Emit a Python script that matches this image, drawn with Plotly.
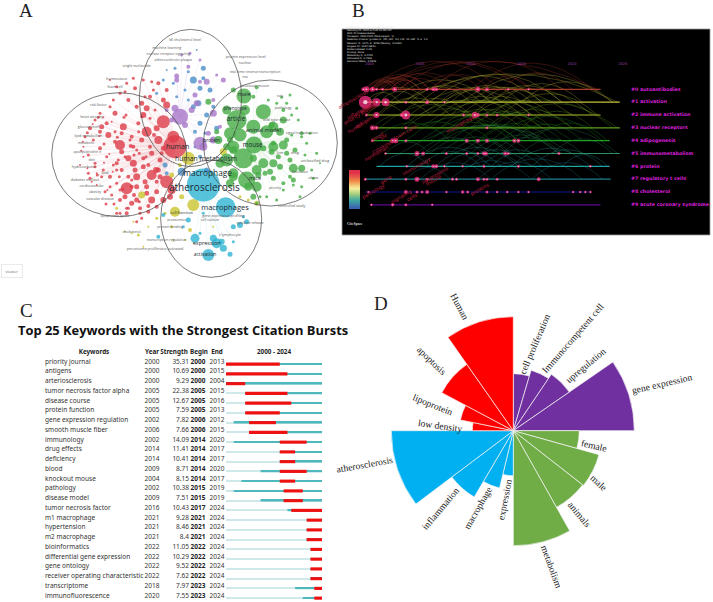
import plotly.graph_objects as go

W, H = 713, 602

# ---- panel A, keyword map (positions in map units)
red_x = [525, 440, 490, 380, 455, 360, 500, 455, 410, 370, 400, 520, 475, 430, 345, 330, 300, 285, 270, 255, 250, 265, 285, 310, 330, 350, 375, 395, 420, 440, 470, 490, 305, 325, 345, 365, 385, 410, 430, 455, 480, 280, 300, 320, 340, 365, 385, 405, 430, 250, 270, 290, 315, 335, 360, 385, 410, 435, 265, 285, 305, 330, 350, 375, 400, 425, 450, 475, 300, 320, 345, 365, 390, 415, 440, 465, 490, 340, 360, 385, 410, 435, 460, 380, 405, 430, 455, 330, 350, 375, 400, 425, 450, 475, 500, 420, 445, 470, 380, 410, 500, 470, 440, 410, 350, 480, 510, 395, 425, 350, 240, 248, 262, 278, 295, 312, 328, 352, 372, 392, 416, 438, 462, 485, 275, 292, 318, 342, 368, 395, 418, 445, 470, 310, 335, 355, 378, 402, 425, 450, 290, 312, 338, 358, 402, 322, 445, 380, 360, 298, 262, 244, 418, 468, 490, 515, 395, 360]
red_y = [440, 395, 365, 565, 525, 435, 545, 600, 530, 380, 490, 410, 420, 345, 340, 320, 340, 360, 385, 410, 440, 465, 490, 510, 530, 550, 590, 610, 625, 580, 575, 600, 380, 405, 425, 455, 475, 450, 475, 460, 480, 420, 445, 470, 495, 510, 530, 510, 500, 470, 535, 555, 575, 585, 600, 625, 560, 545, 520, 500, 530, 560, 490, 470, 440, 420, 440, 510, 395, 370, 395, 400, 420, 370, 325, 330, 300, 300, 280, 300, 320, 290, 270, 250, 265, 240, 245, 240, 260, 275, 235, 310, 290, 250, 270, 640, 635, 620, 640, 665, 315, 385, 560, 600, 510, 530, 590, 560, 655, 640, 495, 425, 398, 372, 352, 432, 462, 412, 352, 438, 395, 470, 405, 460, 545, 525, 612, 612, 568, 540, 605, 618, 545, 352, 365, 480, 345, 465, 350, 355, 520, 488, 515, 530, 585, 570, 495, 625, 640, 408, 505, 452, 460, 510, 445, 570, 410, 570]
red_s = [23, 10, 13, 12, 10, 10, 13, 7, 7, 7, 7, 12, 8, 6, 5, 3, 3, 3, 4, 3, 2, 3, 3, 3, 4, 3, 5, 5, 4, 5, 5, 6, 5, 6, 4, 5, 6, 3, 4, 5, 5, 3, 4, 3, 3, 4, 4, 5, 5, 2, 3, 2, 3, 3, 4, 3, 5, 5, 3, 3, 3, 3, 4, 3, 4, 5, 4, 5, 4, 4, 3, 4, 3, 4, 6, 3, 5, 3, 3, 4, 4, 3, 3, 3, 4, 3, 3, 2, 3, 3, 3, 5, 4, 4, 4, 3, 4, 4, 4, 3, 7, 6, 5, 5, 3, 5, 6, 4, 3, 3, 2, 2, 3, 2, 3, 3, 2, 3, 3, 4, 3, 3, 4, 4, 2, 3, 3, 3, 3, 3, 3, 4, 4, 2, 2, 3, 3, 3, 3, 3, 2, 2, 2, 3, 4, 2, 4, 3, 3, 2, 2, 2, 3, 6, 5, 8, 4, 3]

green_x = [732, 790, 710, 800, 720, 762, 730, 680, 790, 740, 850, 840, 880, 850, 770, 820, 655, 690, 625, 700, 770, 760, 845, 890, 905, 930, 875, 905, 860, 815, 790, 760, 835, 860, 885, 915, 870, 840, 810, 905, 850, 880, 780, 850, 830, 800, 770, 745, 650, 680, 700, 880, 900, 940, 700, 815, 795, 775, 870, 820, 760, 690, 680, 820, 700, 770, 700, 820, 735, 660, 690, 820, 760, 875, 830, 895, 920, 950, 960, 870, 805, 860, 905, 935, 850]
green_y = [288, 335, 360, 395, 405, 435, 475, 480, 490, 540, 435, 395, 505, 360, 560, 535, 420, 420, 305, 270, 262, 290, 292, 325, 400, 400, 405, 410, 420, 375, 445, 475, 470, 460, 450, 465, 480, 500, 515, 505, 550, 555, 590, 570, 600, 590, 610, 560, 395, 440, 530, 540, 590, 535, 450, 455, 520, 525, 530, 430, 380, 400, 330, 440, 440, 510, 520, 380, 330, 490, 550, 490, 590, 345, 310, 360, 430, 460, 490, 285, 300, 310, 560, 510, 330]
green_s = [15, 15, 20, 13, 13, 17, 20, 13, 10, 17, 9, 8, 9, 7, 10, 5, 8, 6, 6, 5, 4, 4, 3, 3, 4, 3, 3, 3, 5, 6, 6, 7, 5, 5, 5, 3, 5, 6, 6, 7, 4, 3, 3, 3, 3, 3, 3, 8, 5, 7, 9, 5, 3, 3, 8, 6, 5, 6, 4, 5, 14, 12, 9, 10, 12, 10, 10, 10, 10, 9, 8, 8, 6, 3, 3, 3, 3, 3, 2, 3, 3, 3, 3, 3, 4]

purple_x = [540, 600, 525, 640, 620, 530, 670, 575, 640, 565, 600, 515, 555, 610, 590, 660, 640, 500, 545, 585, 625, 600, 530, 570, 650]
purple_y = [350, 430, 325, 340, 245, 228, 240, 330, 420, 200, 180, 360, 375, 440, 310, 380, 300, 330, 165, 285, 400, 245, 240, 160, 225]
purple_s = [16, 13, 7, 7, 6, 5, 5, 6, 7, 4, 3, 5, 6, 8, 6, 4, 4, 4, 3, 5, 5, 4, 5, 3, 3]

steel_x = [580, 610, 600, 580, 630, 595, 650, 545, 500, 490, 525, 565, 620, 555, 530, 600, 585, 615, 640, 600, 620, 500, 470, 590, 565, 520, 610, 585, 610, 495]
steel_y = [240, 205, 265, 320, 270, 310, 385, 515, 520, 240, 205, 215, 345, 270, 290, 370, 395, 400, 320, 470, 510, 210, 280, 150, 300, 250, 235, 440, 420, 495]
steel_s = [7, 5, 5, 5, 5, 6, 5, 8, 4, 3, 3, 3, 5, 3, 3, 5, 4, 3, 4, 4, 5, 2, 3, 2, 3, 3, 4, 3, 3, 5]

teal_x = [610, 677, 650, 625, 585, 670, 690, 720, 740, 700, 565, 640, 665, 490, 475, 610, 700, 730, 600, 550]
teal_y = [555, 622, 730, 765, 715, 745, 763, 675, 665, 680, 660, 715, 725, 645, 710, 640, 725, 650, 700, 680]
teal_s = [33, 20, 10, 12, 9, 7, 5, 6, 5, 5, 5, 7, 6, 4, 4, 3, 3, 3, 3, 3]

yellow_x = [565, 525, 580, 670, 545, 570, 515, 470, 745, 350, 425, 415, 520, 540, 515, 495, 445, 400, 375, 770, 640, 720, 555, 430, 395]
yellow_y = [475, 635, 615, 455, 590, 690, 680, 655, 600, 625, 585, 705, 720, 495, 525, 640, 680, 665, 695, 610, 680, 590, 720, 740, 700]
yellow_s = [13, 10, 12, 7, 5, 4, 3, 3, 3, 3, 7, 3, 2, 4, 5, 3, 2, 2, 2, 5, 2, 3, 2, 2, 2]

big_labels = ["atherosclerosis", "macrophage", "macrophages", "human", "human metabolism", "mouse", "male", "article", "animal model", "mice", "protein", "expression", "activation", "cell function", "phenotype"]
big_x = [613, 623, 675, 533, 618, 758, 733, 708, 790, 765, 635, 620, 615, 545, 705]
big_y = [565, 522, 624, 443, 477, 437, 283, 358, 393, 537, 423, 732, 765, 640, 327]
big_sz = [10, 8.3, 7.5, 7, 6.8, 6.2, 5.5, 6.5, 5.5, 5.5, 5, 5.5, 5, 4, 4.6]

small_labels = ["ldl cholesterol level", "machine learning", "nuclear receptor signaling", "atherosclerotic plaque", "single nucleotide", "homeostasis", "foam cell", "risk factor", "heart atrophy", "glucose level", "lipid metabolism", "metabolic", "apolipoprotein e", "diet", "hydrocarbons", "lipid", "diabetes mellitus", "cardiovascular", "obesity", "vascular disease", "lipoprotein lipase", "cholesterol", "peroxisome proliferator-activated", "transcription regulation", "protein binding", "proteomics", "cell culture", "gene expression profiling", "cytokine release", "t lymphocyte", "protein expression level", "nuclear", "real time reverse transcription", "rna", "knockout mouse", "rats", "pathology", "signal transduction", "drug", "unclassified drug", "knockout", "obese", "controlled study", "priority", "liver", "wild type mouse"]
small_x = [555, 500, 505, 520, 410, 350, 345, 295, 275, 265, 265, 258, 262, 275, 250, 315, 255, 275, 285, 300, 345, 395, 465, 500, 510, 530, 630, 670, 750, 690, 737, 735, 765, 735, 765, 840, 850, 905, 885, 945, 900, 940, 875, 825, 840, 830]
small_y = [120, 145, 162, 180, 198, 236, 262, 315, 350, 380, 407, 428, 456, 480, 500, 520, 540, 558, 575, 598, 648, 695, 748, 720, 680, 660, 660, 648, 668, 705, 172, 190, 215, 232, 258, 288, 325, 400, 460, 484, 515, 535, 618, 565, 460, 360]

# ---- panel B, timeline clusters
cluster_names = ["#0 autoantibodies", "#1 activation", "#2 immune activation", "#3 nuclear receptors", "#4 adipogenesis", "#5 immunometabolism", "#6 protein", "#7 regulatory t cells", "#8 cholesterol", "#9 acute coronary syndrome"]
cluster_rows = [0, 1, 2, 3, 4, 5, 6, 7, 8, 9]
cluster_start = [1999.4, 1999.4, 1999.7, 2000.2, 2000.2, 2001.5, 2000.7, 1999.6, 1999.6, 2000.1]
cluster_end = [2022.8, 2024.7, 2022.8, 2024.7, 2023.7, 2024.7, 2023.7, 2023.8, 2021.8, 2022.8]
cluster_colors = ["#b03a2c", "#c4bf3a", "#b4bd2c", "#5f9e1e", "#1f9f24", "#2f8f62", "#22a3a0", "#1f8090", "#14148f", "#5e0a92"]
tick_years = [2000, 2005, 2010, 2015, 2020, 2025]

node_row = [0]*13 + [1]*6 + [2]*10 + [3]*4 + [4]*9 + [5]*11 + [6]*8 + [7]*11 + [8]*17 + [9]*4
node_year = [1999.4, 1999.7, 2000.3, 2000.7, 2001.3, 2002.5, 2005.7, 2006.3, 2006.6, 2010.7, 2011.6, 2013.7, 2015.7,
             1999.6, 2000.7, 2001.6, 2003.6, 2005.7, 2007.4,
             1999.7, 2000.7, 2003.2, 2003.6, 2009.3, 2010.4, 2010.7, 2011.6, 2012.6, 2015.7,
             2000.3, 2000.7, 2003.6, 2011.6,
             2000.3, 2002.3, 2002.6, 2003.6, 2009.6, 2010.7, 2011.6, 2014.3, 2014.7,
             2001.6, 2004.7, 2005.3, 2007.6, 2009.6, 2010.7, 2011.3, 2011.5, 2013.4, 2013.7, 2018.7,
             2003.7, 2006.3, 2006.6, 2007.4, 2009.2, 2011.3, 2014.7, 2021.8,
             1999.6, 2003.6, 2004.7, 2005.7, 2008.2, 2008.6, 2010.7, 2011.3, 2011.6, 2012.6, 2016.7,
             1999.9, 2003.6, 2004.7, 2005.2, 2005.7, 2007.6, 2009.2, 2009.7, 2011.6, 2012.6, 2013.6, 2014.7, 2015.7, 2020.1, 2020.8, 2021.3, 2021.8,
             2000.2, 2002.3, 2003.6, 2006.2]
node_size = [3, 5, 4, 2, 2, 4, 2, 3, 3, 4, 3, 1.5, 1.5,
             12, 7, 7, 2, 3, 1.5,
             2, 5, 3, 8, 2, 5, 3, 2, 2, 1.5,
             4, 3, 2, 2,
             2, 4, 4, 2, 3, 3, 3, 3, 3,
             1.5, 4, 3, 2, 2, 2, 3, 3, 3, 2, 2,
             1.5, 3, 3, 1.5, 1.5, 2, 2, 1.5,
             2, 2, 4, 2, 2, 2, 3, 2, 2, 2, 3,
             1.5, 3, 2, 2, 3, 1.5, 2.5, 2, 2, 1.5, 1.5, 1.5, 1.5, 1.5, 1.5, 1.5, 1.5,
             1.5, 2.5, 2, 1.5]

arc_row = [0]*24 + [1]*18 + [2]*14 + [3]*14 + [4]*14 + [5]*14 + [6]*12 + [7]*6
arc_start = [1999.5, 2000, 2000, 2000.5, 2001, 2002, 2000, 2003, 2005, 2006, 2006, 2010, 2011, 2013, 1999.6, 1999.8, 2000.2, 2000.4, 2000.7, 2001, 2001.3, 2001.6, 2002, 2003,
             1999.6, 2000, 2001, 2002, 2003.5, 2005, 2007, 2003, 2006, 2008, 2009, 2011, 2013, 2015, 2004, 2007.4, 2010, 2012,
             1999.7, 2000.7, 2003, 2004, 2006, 2008, 2010, 2010.5, 2012, 2013, 2001, 2005, 2007, 2009,
             2000.3, 2001, 2003.6, 2005, 2007, 2009, 2011.6, 2013, 2015, 2003, 2006, 2008, 2010, 2012,
             2000.3, 2002.5, 2003.6, 2006, 2009, 2010.7, 2012, 2014, 2016, 2005, 2007, 2008, 2011, 2013,
             2001.6, 2004.7, 2005.3, 2007, 2009, 2011, 2013, 2015, 2018, 2003, 2006, 2008, 2010, 2012,
             2001, 2003.7, 2006.5, 2009, 2011, 2014, 2016, 2019, 2005, 2007.4, 2010, 2012,
             2003.6, 2005, 2008, 2010.7, 2012, 2016]
arc_end = [2004, 2006, 2013, 2005, 2016, 2009, 2022.5, 2015, 2011, 2019, 2012, 2022, 2016, 2020, 2003, 2002.5, 2004.5, 2003, 2006, 2003.5, 2005, 2008, 2005, 2007,
           2003, 2006, 2005, 2012, 2010, 2017, 2013, 2024.5, 2019, 2015, 2024, 2017, 2021, 2024, 2011, 2012, 2016, 2019,
           2003.5, 2008, 2010, 2016, 2012, 2014, 2022, 2016, 2018, 2022.5, 2006, 2020, 2015, 2017,
           2005, 2011.6, 2012, 2020, 2015, 2024.5, 2018, 2024, 2022, 2017, 2013, 2016, 2017, 2020,
           2008, 2010.7, 2014.7, 2014, 2016, 2018, 2023, 2021, 2023.5, 2020, 2012, 2014.7, 2017, 2019,
           2006, 2011.3, 2018.7, 2014, 2015, 2019, 2024.5, 2021, 2024, 2020, 2012, 2013.7, 2016, 2018.7,
           2006, 2012, 2014.7, 2016, 2018, 2021.8, 2023, 2023.5, 2011, 2013, 2015, 2017,
           2008, 2012, 2016, 2018, 2021, 2023]

burst_tags = ["atherosclerosis", "inflammation", "priority journal", "human", "antigens", "foam cells", "macrophage", "cytokines", "nonhuman", "immunology", "lipoproteins", "mouse", "gene", "proteins", "signaling", "cells", "pathology", "animals", "blood", "tnf"]
tag_x = [45, 65, 60, 45, 75, 195, 360, 130, 110, 230, 285, 280, 140, 420, 185, 215, 100, 85, 110, 130]
tag_y = [295, 330, 345, 385, 365, 395, 375, 440, 460, 500, 525, 540, 540, 570, 590, 590, 575, 320, 410, 410]

legend_years = [2000, 2003, 2006, 2009, 2012, 2015, 2018, 2021, 2024]

# ---- panel C, citation bursts
keywords = ["priority journal", "antigens", "arteriosclerosis", "tumor necrosis factor alpha", "disease course", "protein function", "gene expression regulation", "smooth muscle fiber", "immunology", "drug effects", "deficiency", "blood", "knockout mouse", "pathology", "disease model", "tumor necrosis factor", "m1 macrophage", "hypertension", "m2 macrophage", "bioinformatics", "differential gene expression", "gene ontology", "receiver operating characteristic", "transcriptome", "immunofluorescence"]
first_year = [2000, 2000, 2000, 2005, 2005, 2005, 2002, 2006, 2002, 2014, 2014, 2009, 2004, 2002, 2009, 2016, 2021, 2021, 2021, 2022, 2022, 2022, 2022, 2018, 2020]
strength = [35.31, 10.69, 9.29, 22.38, 12.67, 7.59, 7.82, 7.66, 14.09, 11.41, 10.41, 8.71, 8.15, 10.38, 7.51, 10.43, 9.28, 8.46, 8.4, 11.05, 10.29, 9.52, 7.62, 7.97, 7.55]
begin = [2000, 2000, 2000, 2005, 2005, 2005, 2006, 2006, 2014, 2014, 2014, 2014, 2014, 2015, 2015, 2017, 2021, 2021, 2021, 2022, 2022, 2022, 2022, 2023, 2023]
end = [2013, 2015, 2004, 2015, 2016, 2013, 2012, 2015, 2020, 2017, 2017, 2020, 2017, 2019, 2019, 2024, 2024, 2024, 2024, 2024, 2024, 2024, 2024, 2024, 2024]
rows = list(range(len(keywords)))

# ---- panel D, rose chart
rose_labels = ["cell proliferation", "Immunocompetent cell", "upregulation", "gene expression", "female", "male", "animals", "metabolism", "expression", "macrophage", "inflammation", "atherosclerosis", "low density", "lipoprotein", "apoptosis", "Human"]
rose_values = [57, 63, 68, 121, 66, 89, 88, 115, 45, 59, 77, 122, 41, 54, 81, 114]
rose_widths = [16.4, 17.6, 21.4, 34.6, 15.6, 22.4, 22.6, 29.4, 13.5, 17, 22.5, 37, 11.5, 16.5, 27, 35]
rose_colors = ["#7030A0"]*4 + ["#70AD47"]*4 + ["#00B0F0"]*4 + ["#FF0000"]*4
rose_label_x = [534, 572, 585, 662, 594, 599, 580, 552, 504, 477, 440, 364, 440, 433, 432, 460]
rose_label_y = [344, 338, 365, 383, 445, 482, 514, 566, 500, 508, 508, 464, 425, 404, 360, 306]
rose_label_angle = [-67, -49, -40, -13, 13, 44, 50, 70, -79, -60, -50, -10, 8, 22, 44, 62]

rose_theta = []
pos = 0
for w in rose_widths:
    rose_theta.append(pos + w / 2)
    pos += w


def px_dom(a, b, size):
    return [a / size, b / size]


def note(x, y, text, size, color="#222222", family="Liberation Serif", angle=0, anchor="center", **kw):
    return dict(x=x / W, y=1 - y / H, xref="paper", yref="paper", text=text, showarrow=False,
                font=dict(size=size, color=color, family=family), textangle=angle,
                xanchor=anchor, yanchor="middle", **kw)


def star_links(xs, ys, hub_x, hub_y):
    lx, ly = [], []
    for a, b in zip(xs, ys):
        lx += [hub_x, a, None]
        ly += [hub_y, b, None]
    return lx, ly


fig = go.Figure()

# A: faint links to the busiest keyword of each cluster, then bubbles
for xs, ys, hx, hy, col in [(red_x, red_y, 525, 440, "#f3c9cc"), (green_x, green_y, 762, 435, "#d3ecd3"),
                            (teal_x, teal_y, 610, 555, "#cdeaf2"), (purple_x, purple_y, 540, 350, "#e2d3ee")]:
    lx, ly = star_links(xs, ys, hx, hy)
    fig.add_trace(go.Scatter(x=lx, y=ly, mode="lines", xaxis="x", yaxis="y", showlegend=False,
                             line=dict(color=col, width=0.3)))
for xs, ys, ss, col in [(red_x, red_y, red_s, "#dc3c48"), (yellow_x, yellow_y, yellow_s, "#c9c42e"),
                        (teal_x, teal_y, teal_s, "#2fb4d2"), (steel_x, steel_y, steel_s, "#4b8fc8"),
                        (purple_x, purple_y, purple_s, "#a877c8"), (green_x, green_y, green_s, "#45ab45")]:
    fig.add_trace(go.Scatter(x=xs, y=ys, mode="markers", xaxis="x", yaxis="y", showlegend=False,
                             marker=dict(size=ss, color=col, opacity=0.8, line=dict(width=0))))
fig.add_trace(go.Scatter(x=small_x, y=small_y, text=small_labels, mode="text", xaxis="x", yaxis="y", showlegend=False,
                         textfont=dict(size=3.6, color="#555555", family="Open Sans")))
fig.add_trace(go.Scatter(x=big_x, y=big_y, text=big_labels, mode="text", xaxis="x", yaxis="y", showlegend=False,
                         textfont=dict(size=big_sz, color="#1c2a30", family="Open Sans")))

# B: timeline
for i in cluster_rows:
    fig.add_trace(go.Scatter(x=[cluster_start[i], cluster_end[i]], y=[i, i], mode="lines", xaxis="x2", yaxis="y2",
                             showlegend=False, line=dict(color=cluster_colors[i], width=1.2)))
fig.add_trace(go.Scatter(x=node_year, y=node_row, mode="markers", xaxis="x2", yaxis="y2", showlegend=False,
                         marker=dict(size=[s * 1.0 + 1 for s in node_size], color="#ff2f86", opacity=0.75, line=dict(width=0))))
fig.add_trace(go.Scatter(x=node_year, y=node_row, mode="markers", xaxis="x2", yaxis="y2", showlegend=False,
                         marker=dict(size=[max(s * 0.35, 1.2) for s in node_size], color="#ffffff", line=dict(width=0))))
fig.add_trace(go.Scatter(x=tick_years, y=[-1.95] * len(tick_years), text=[str(t) for t in tick_years], mode="text",
                         xaxis="x2", yaxis="y2", showlegend=False,
                         textfont=dict(size=3.5, color="#a040b0", family="DejaVu Sans")))
fig.add_trace(go.Scatter(x=[2025.8] * 10, y=cluster_rows, text=["<b>%s</b>" % c for c in cluster_names], mode="text",
                         textposition="middle right", xaxis="x2", yaxis="y2", showlegend=False,
                         textfont=dict(size=4.8, color="#d81fd8", family="DejaVu Sans")))
fig.add_trace(go.Heatmap(x=[0], y=legend_years, z=[[y] for y in legend_years], xaxis="x3", yaxis="y3", showscale=False,
                         zsmooth="best",
                         colorscale=[[0, "#3a62b0"], [0.2, "#3fa7a0"], [0.4, "#a8d080"], [0.55, "#f4ee9a"],
                                     [0.75, "#f0904a"], [1, "#e0304a"]]))

# C: table text
fig.add_trace(go.Scatter(x=[45] * 25, y=rows, text=keywords, mode="text", textposition="middle right", xaxis="x4", yaxis="y4",
                         showlegend=False, textfont=dict(size=6.5, color="#333333", family="Noto Sans")))
fig.add_trace(go.Scatter(x=[152] * 25, y=rows, text=[str(v) for v in first_year], mode="text", xaxis="x4", yaxis="y4",
                         showlegend=False, textfont=dict(size=6.5, color="#333333", family="Noto Sans")))
fig.add_trace(go.Scatter(x=[189] * 25, y=rows, text=[str(v) for v in strength], mode="text", textposition="middle left",
                         xaxis="x4", yaxis="y4", showlegend=False,
                         textfont=dict(size=6.5, color="#333333", family="Noto Sans")))
fig.add_trace(go.Scatter(x=[198] * 25, y=rows, text=["<b>%d</b>" % v for v in begin], mode="text", xaxis="x4", yaxis="y4",
                         showlegend=False, textfont=dict(size=6.5, color="#222222", family="Noto Sans")))
fig.add_trace(go.Scatter(x=[217] * 25, y=rows, text=[str(v) for v in end], mode="text", xaxis="x4", yaxis="y4",
                         showlegend=False, textfont=dict(size=6.5, color="#333333", family="Noto Sans")))
header = ["Keywords", "Year", "Strength", "Begin", "End"]
fig.add_trace(go.Scatter(x=[94, 152, 174, 199, 217], y=[-1] * 5, text=["<b>%s</b>" % h for h in header], mode="text",
                         xaxis="x4", yaxis="y4", showlegend=False,
                         textfont=dict(size=6.3, color="#222222", family="Noto Sans")))

# C: bursts, pale before the first year, teal after it, red during the burst
bar_y = [r + 0.22 for r in rows]
fig.add_trace(go.Bar(y=bar_y, x=[2025 - 2000] * 25, base=[2000] * 25, orientation="h", width=0.13, xaxis="x5", yaxis="y5",
                     showlegend=False, marker=dict(color="#cfe9ea", line=dict(width=0))))
fig.add_trace(go.Bar(y=bar_y, x=[2025 - v for v in first_year], base=first_year, orientation="h", width=0.16, xaxis="x5",
                     yaxis="y5", showlegend=False, marker=dict(color="#4fb8bd", line=dict(width=0))))
fig.add_trace(go.Bar(y=bar_y, x=[e + 1 - b for b, e in zip(begin, end)], base=begin, orientation="h", width=0.32, xaxis="x5",
                     yaxis="y5", showlegend=False, marker=dict(color="#ee1111", line=dict(width=0))))
fig.add_trace(go.Scatter(x=[2012.5], y=[-1], text=["<b>2000 - 2024</b>"], mode="text", xaxis="x5", yaxis="y5", showlegend=False,
                         textfont=dict(size=6.3, color="#222222", family="Noto Sans")))

# D: rose
fig.add_trace(go.Barpolar(r=rose_values, theta=rose_theta, width=rose_widths, showlegend=False,
                          marker=dict(color=rose_colors, line=dict(color="#f4f4f4", width=0.7))))

# shapes: panel B background and links, panel A outlines
shapes = [dict(type="rect", xref="x2 domain", yref="y2 domain", x0=0, x1=1, y0=0, y1=1, layer="below",
               fillcolor="#000000", line=dict(color="#999999", width=0.8))]
for r, a, b in zip(arc_row, arc_start, arc_end):
    lift = min(0.5 + (b - a) * 0.3, 4.4)
    shapes.append(dict(type="path", xref="x2", yref="y2", layer="below",
                       path="M %.2f,%.2f Q %.2f,%.2f %.2f,%.2f" % (a, r, (a + b) / 2, r - lift, b, r),
                       line=dict(color=cluster_colors[r], width=0.6), opacity=0.5))
for x0, x1, y0, y1 in [(155, 560, 278, 650), (418, 725, 88, 500), (610, 1012, 240, 618), (482, 785, 480, 832)]:
    shapes.append(dict(type="circle", xref="x", yref="y", x0=x0, x1=x1, y0=y0, y1=y1, layer="above",
                       line=dict(color="#444444", width=0.7)))

annotations = [
    note(26, 11, "A", 19), note(358, 11, "B", 19), note(26, 310, "C", 19), note(381, 303, "D", 19),
    note(183.5, 330, "<b>Top 25 Keywords with the Strongest Citation Bursts</b>", 12.9, "#111111", "Open Sans"),
    note(12, 270.5, "viewer", 4, "#666666", "Open Sans", bordercolor="#dddddd", borderwidth=0.6, borderpad=4, bgcolor="#ffffff"),
    note(355, 224, "<b>CiteSpace</b>", 3.6, "#dddddd", "Liberation Serif"),
    note(345, 44.5, "CiteSpace, v. 6.2.R4 (64-bit) Advanced<br>February 21, 2024 at 5:32:10 PM CST<br>WoS: D:\\citespace\\data<br>"
         "Timespan: 2000-2024 (Slice Length=1)<br>Selection Criteria: g-index (k=25), LRF=3.0, L/N=10, LBY=5, e=1.0<br>"
         "Network: N=1071, E=9426 (Density=0.0164)<br>Largest CC: 1032 (96%)<br>Nodes Labeled: 1.0%<br>Pruning: None<br>"
         "Modularity Q=0.4215<br>Silhouette S=0.7316<br>Harmonic Mean=0.5349", 2.4, "#e8e8e8", "DejaVu Sans", anchor="left", align="left"),
]
for t, x, y in zip(burst_tags, tag_x, tag_y):
    annotations.append(note(340 + x / 3, y / 3, t, 5, "#b81f3f", "DejaVu Sans", angle=-30))
for t, x, y, a in zip(rose_labels, rose_label_x, rose_label_y, rose_label_angle):
    annotations.append(note(x, y, t, 9.6, "#222222", "Liberation Serif", angle=a))

hidden = dict(visible=False, fixedrange=True)
fig.update_layout(
    width=W, height=H, margin=dict(l=0, r=0, t=0, b=0), paper_bgcolor="#ffffff", plot_bgcolor="rgba(0,0,0,0)",
    barmode="overlay", shapes=shapes, annotations=annotations, showlegend=False,
    xaxis=dict(domain=px_dom(0, 340, W), range=[0, 1020], **hidden),
    yaxis=dict(domain=[1 - 290 / H, 1], range=[870, 0], **hidden),
    xaxis2=dict(domain=px_dom(342, 710, W), range=[1997.3, 2033.6], **hidden),
    yaxis2=dict(domain=[1 - 235 / H, 1 - 29 / H], range=[11.35, -4.7], **hidden),
    xaxis3=dict(domain=px_dom(349, 360, W), **hidden),
    yaxis3=dict(domain=[1 - 209 / H, 1 - 170 / H], **hidden),
    xaxis4=dict(domain=px_dom(0, 226, W), range=[0, 226], **hidden),
    yaxis4=dict(domain=[0, 1 - 340 / H], range=[24.615, -2.256], **hidden),
    xaxis5=dict(domain=px_dom(226, 322, W), range=[2000, 2025], **hidden),
    yaxis5=dict(domain=[0, 1 - 340 / H], range=[24.615, -2.256], **hidden),
    polar=dict(domain=dict(x=px_dom(363.3, 663.3, W), y=[1 - 580.7 / H, 1 - 280.7 / H]), bgcolor="rgba(0,0,0,0)",
               radialaxis=dict(range=[0, 150], visible=False),
               angularaxis=dict(direction="clockwise", rotation=90, visible=False)),
)
# page margin off, so the figure sits at the top left corner
fig.write_html("out.html", config=dict(displayModeBar=False),
               post_script="document.body.style.margin='0';document.body.style.overflow='hidden';")
